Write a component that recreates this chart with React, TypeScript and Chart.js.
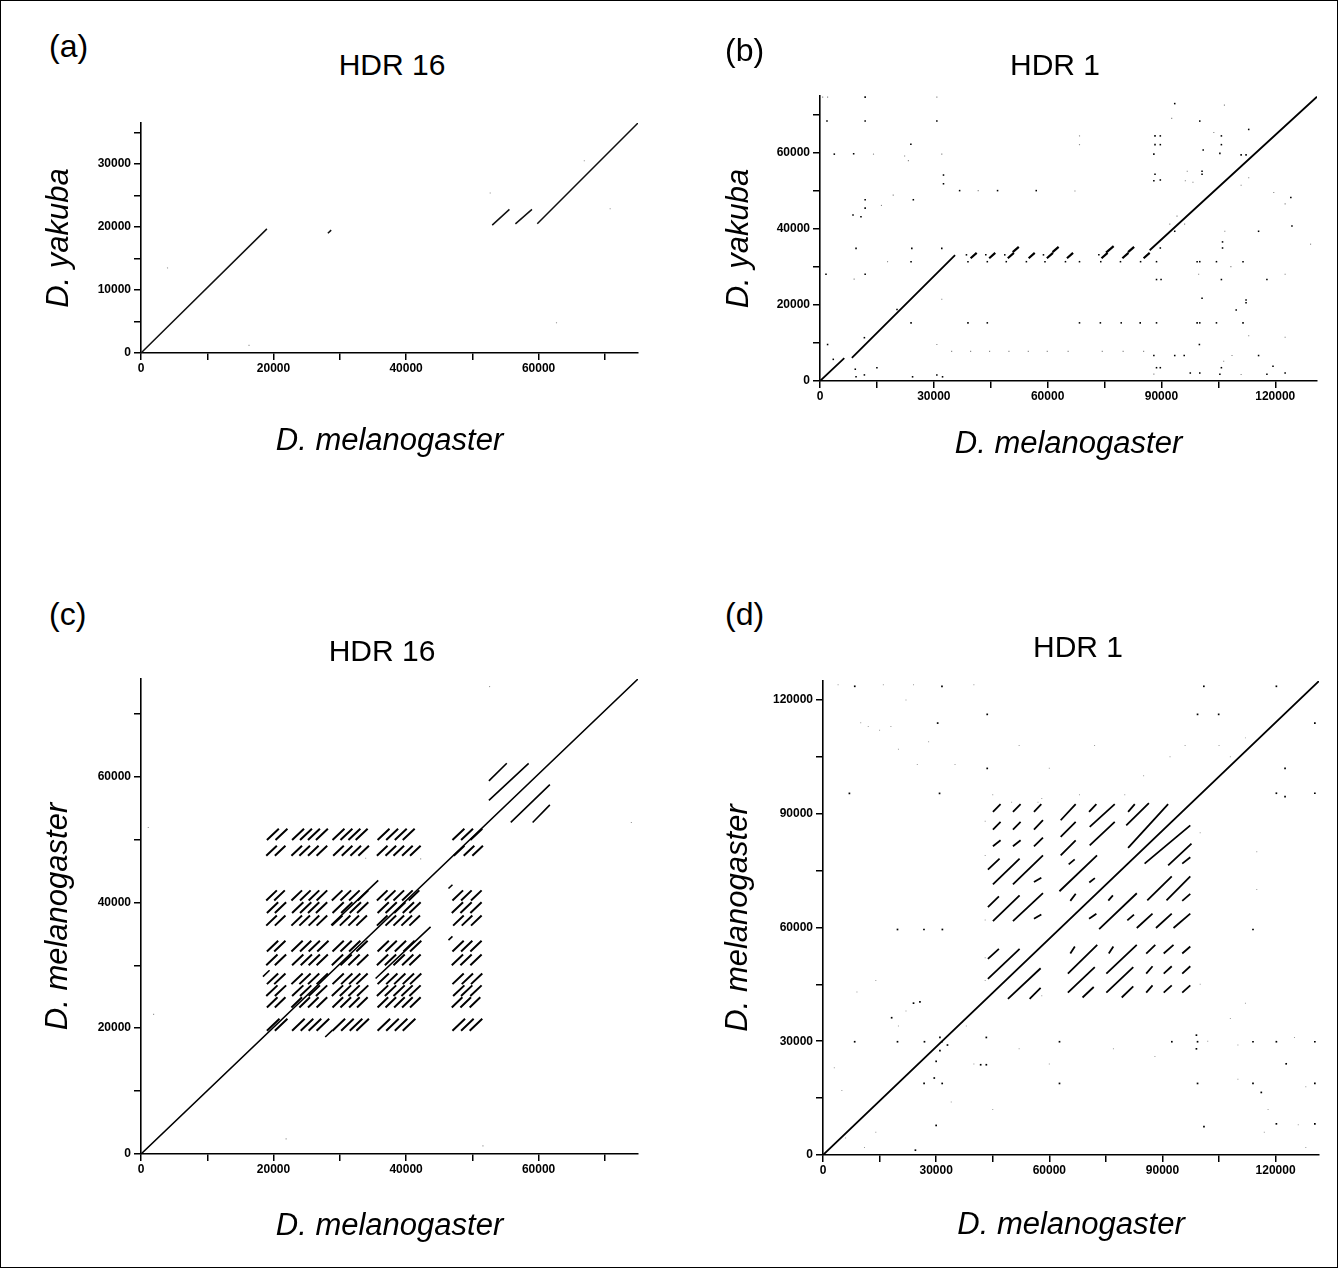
import React, { useEffect, useRef } from 'react';
import { Chart, registerables } from 'chart.js';

Chart.register(...registerables);

// ================= DATA =================
// segments: [x0, y0, x1, y1]; dots: [x, y]; dash rows: [y0, length, ...x starts]

// ---- Panel (a): HDR 16, D. melanogaster vs D. yakuba ----
const A_X_MAX = 75000;
const A_Y_MAX = 36500;
const A_X_TICKS = [0, 10000, 20000, 30000, 40000, 50000, 60000, 70000];
const A_X_LABELS = [0, 20000, 40000, 60000];
const A_Y_TICKS = [0, 5000, 10000, 15000, 20000, 25000, 30000, 35000];
const A_Y_LABELS = [0, 10000, 20000, 30000];
const A_SEGMENTS = [
  [0, 0, 19000, 19700],
  [28200, 19000, 28700, 19500],
  [53000, 20300, 55600, 22800],
  [56500, 20500, 59000, 22800],
  [59800, 20500, 75000, 36500],
];
const A_FAINT_DOTS = [
  [52700, 25400], [66900, 30500], [70800, 22900], [62700, 4800], [16300, 1200], [4000, 13500],
];

// ---- Panel (b): HDR 1, D. melanogaster vs D. yakuba ----
const B_X_MAX = 131000;
const B_Y_MAX = 75000;
const B_X_TICKS = [0, 15000, 30000, 45000, 60000, 75000, 90000, 105000, 120000];
const B_X_LABELS = [0, 30000, 60000, 90000, 120000];
const B_Y_TICKS = [0, 10000, 20000, 30000, 40000, 50000, 60000, 70000];
const B_Y_LABELS = [0, 20000, 40000, 60000];
const B_SEGMENTS = [
  [0, 0, 6400, 6000],
  [8400, 6100, 35600, 33100],
  [86900, 34400, 131000, 74800],
];
const B_LADDER = [
  [39700, 32300, 41300, 33700], [44600, 32300, 46200, 33700], [49500, 32300, 51100, 33700],
  [55000, 32300, 56600, 33700], [59800, 32300, 61400, 33700], [65100, 32300, 66700, 33700],
  [74200, 32300, 75800, 33700], [79700, 32300, 81300, 33700], [85300, 32300, 86900, 33700],
  [50800, 33900, 52400, 35300], [61300, 33900, 62900, 35300], [75400, 33800, 77400, 35500],
  [81200, 33900, 82800, 35300],
];
const B_DARK_DOTS = [
  [38600, 33200], [43700, 33200], [48700, 33200], [58900, 33200], [73500, 33200],
  [39000, 31400], [44100, 31400], [49100, 31400], [54400, 31400], [59300, 31400], [64700, 31400],
  [68400, 31400], [74000, 31400], [79200, 31400], [84500, 31400],
  [1840, 68400], [11900, 68400], [30800, 68400], [32550, 54200], [32550, 51900],
  [24600, 47700], [11900, 47700], [11900, 45500], [8700, 43700], [10800, 43200],
  [9500, 34900], [24200, 34900], [32100, 34900], [24000, 31400], [1580, 28100], [11900, 28100],
  [20300, 18800], [24000, 15300], [39000, 15300], [44100, 15300], [2000, 9600], [3500, 5700],
  [9300, 3100], [11700, 1600], [9500, 1100], [15000, 3500], [24400, 1100], [30800, 1600], [32300, 1100],
  [11900, 74700], [23950, 62300], [3770, 59700], [8870, 59800], [36800, 50100], [46800, 50100],
  [57000, 50100], [11700, 11400],
  [93500, 73000], [100100, 68400], [113000, 66200], [88300, 64500], [89700, 64500], [88300, 62200],
  [89700, 62200], [88000, 59700], [101000, 60800], [105800, 64500], [105800, 62200], [105400, 59900],
  [100700, 55200], [100700, 54400], [88300, 54400], [88000, 52700], [89700, 52900],
  [111000, 59500], [112300, 59500], [124100, 48300], [93500, 39400], [115600, 39400], [124400, 40800],
  [106100, 36600], [106100, 35000], [89700, 35000],
  [88700, 31400], [99400, 31400], [100100, 31400], [104500, 31400], [111500, 31400],
  [88700, 26700], [89900, 26700], [105800, 26700], [117800, 26700],
  [100700, 21800], [112300, 21300], [112300, 20600], [109700, 18700],
  [68400, 15300], [73900, 15300], [79400, 15300], [84400, 15300], [88700, 15300], [99400, 15300],
  [100100, 15300], [104500, 15300], [111500, 15300], [100000, 9600],
  [88000, 6700], [93500, 6700], [96000, 6700], [115600, 6700], [119400, 3900], [88700, 3500],
  [89700, 3500], [105800, 3500], [97600, 2100], [100100, 2100], [105400, 1800], [117800, 1800], [122600, 2100],
];
const B_FAINT_DOTS = [
  [700, 74700], [2000, 74700], [30800, 74700], [14100, 59700], [22300, 59200], [23300, 58000],
  [32100, 59700], [41700, 50100], [19300, 48900], [16200, 46200], [17800, 31400], [9000, 26800],
  [32100, 21500], [30800, 9600], [34700, 7800], [39700, 7800], [44700, 7800], [49800, 7800],
  [54900, 7800], [59900, 7800], [65400, 7800],
  [106600, 72600], [92700, 69100], [68400, 64500], [68400, 62200], [103800, 65400], [96800, 55200],
  [98300, 52300], [96300, 52700], [111000, 51500], [113000, 53500], [67200, 50000], [119600, 49600],
  [122600, 46600], [94100, 43400], [92200, 41300], [96100, 41300], [106700, 39400], [129300, 36000],
  [99800, 28100], [108300, 30100], [122600, 28100], [113000, 11900], [122600, 11500], [74400, 7800],
  [79900, 7800], [85300, 7800], [108600, 6700], [106400, 5200], [88000, 1800], [111000, 1700],
];

// ---- Panel (c): HDR 16 self comparison ----
const C_X_MAX = 75000;
const C_Y_MAX = 75500;
const C_X_TICKS = [0, 10000, 20000, 30000, 40000, 50000, 60000, 70000];
const C_X_LABELS = [0, 20000, 40000, 60000];
const C_Y_TICKS = [0, 10000, 20000, 30000, 40000, 50000, 60000, 70000];
const C_Y_LABELS = [0, 20000, 40000, 60000];
const C_SEGMENTS = [
  [0, 0, 75000, 75500],
  [28700, 36400, 35800, 43500],
  [35400, 27900, 43700, 36100],
  [52500, 59300, 55200, 62100],
  [52500, 56200, 58500, 62100],
  [55800, 52700, 61700, 58700],
  [59100, 52700, 61700, 55500],
  [18400, 28200, 19400, 29200],
  [27800, 18600, 28900, 19700],
  [46400, 42200, 47000, 42800],
  [46400, 34000, 47000, 34600],
];
const C_DASH_ROWS = [
  [49900, 1800, 19000, 20300, 22800, 24000, 25200, 26400, 28900, 30100, 31300, 32400, 35700, 37000, 38300, 39500, 47000, 48300, 49700],
  [47400, 1600, 18900, 20200, 22700, 23900, 25200, 26500, 29000, 30300, 31600, 32800, 35600, 36900, 38100, 39400, 40600, 47200, 48700, 50000],
  [40300, 1600, 18900, 20100, 22700, 24000, 25300, 26500, 28800, 30100, 31400, 32700, 35600, 36800, 38100, 39400, 40400, 47000, 48300, 49800],
  [38300, 1700, 19000, 20200, 22800, 24000, 25200, 26400, 28900, 30200, 31500, 32600, 35700, 36900, 38200, 39500, 40500, 46900, 48200, 49700],
  [36300, 1600, 18900, 20200, 22700, 23900, 25300, 26500, 28800, 30000, 31300, 32500, 35600, 36900, 38100, 39300, 40500, 47100, 48400, 49800],
  [32200, 1700, 19000, 20100, 22700, 24000, 25300, 26600, 28900, 30100, 31400, 32500, 35700, 36900, 38300, 39600, 40600, 47000, 48300, 49700],
  [30000, 1700, 18900, 20200, 22800, 24100, 25300, 26500, 28800, 30100, 31300, 32600, 35600, 36800, 38100, 39400, 40500, 46900, 48200, 49700],
  [27000, 1700, 19000, 20100, 22700, 23900, 25200, 26500, 28900, 30200, 31400, 32500, 35700, 37000, 38200, 39500, 40600, 47000, 48400, 49800],
  [25100, 1700, 18900, 20200, 22800, 24000, 25300, 26400, 28800, 30000, 31300, 32600, 35600, 36800, 38100, 39300, 40500, 47100, 48300, 49700],
  [23300, 1600, 19000, 20200, 22700, 23900, 25200, 26500, 28900, 30100, 31400, 32600, 35700, 36900, 38200, 39400, 40600, 46900, 48200, 49600],
  [19600, 1900, 19000, 20200, 22800, 24100, 25300, 26500, 28900, 30200, 31500, 32500, 35700, 37000, 38300, 39500, 47000, 48300, 49600],
];
const C_FAINT_DOTS = [
  [1100, 51900], [1900, 22200], [21900, 2400], [51600, 1300], [74000, 52700], [52600, 74300],
  [33900, 47000], [42200, 46900],
];

// ---- Panel (d): HDR 1 self comparison ----
const D_X_MAX = 131500;
const D_Y_MAX = 125000;
const D_X_TICKS = [0, 15000, 30000, 45000, 60000, 75000, 90000, 105000, 120000];
const D_X_LABELS = [0, 30000, 60000, 90000, 120000];
const D_Y_TICKS = [0, 15000, 30000, 45000, 60000, 75000, 90000, 105000, 120000];
const D_Y_LABELS = [0, 30000, 60000, 90000, 120000];
const D_SEGMENTS = [
  [0, 0, 131500, 125000],
  // upper-left group
  [45050, 90480, 47080, 92510], [50360, 90480, 52390, 92510], [55930, 90480, 57880, 92510],
  [45050, 85810, 47080, 87840], [50360, 85810, 52390, 87840], [55930, 85810, 58320, 88280],
  [45050, 81410, 47080, 83000], [50360, 81410, 52390, 83000], [55930, 81410, 58320, 83700],
  [43720, 75240, 46820, 78150], [45050, 71360, 52130, 78150], [50360, 71360, 58320, 79030], [55930, 71980, 57880, 73130],
  [43720, 65370, 46640, 68190], [45050, 61670, 52130, 68460], [50360, 61670, 58320, 69070], [55930, 62290, 57880, 63430],
  [43720, 51720, 46640, 54360], [43720, 46430, 52130, 54360], [49030, 41150, 57700, 49250], [54780, 41150, 57700, 44050],
  // middle group
  [63010, 88280, 66990, 92510], [63010, 83870, 66990, 87840], [63010, 79030, 66990, 82990],
  [70540, 90480, 72480, 92510], [70710, 86520, 77350, 92510], [70710, 81670, 77350, 87840],
  [65140, 76650, 66730, 77970], [62680, 69550, 72650, 79040], [70600, 71860, 72080, 73020], [65570, 67010, 67000, 68900],
  [80680, 61880, 82450, 63400], [73210, 59550, 83200, 69020], [75640, 67070, 76860, 68480], [70540, 62290, 72480, 63600],
  [79200, 41530, 82260, 44480], [75120, 42800, 82260, 49520], [75120, 47840, 83190, 55400], [75770, 53130, 76980, 54990],
  [68810, 41530, 71780, 44310], [64920, 42800, 72060, 49520], [64920, 47840, 72710, 55400], [65570, 53130, 66770, 54990],
  // right group
  [92930, 59860, 97380, 63640], [88280, 59860, 92460, 63640], [83190, 59860, 87360, 63640],
  [95240, 67010, 97380, 68860], [91070, 67170, 97380, 73480], [85970, 67170, 92460, 73480],
  [80890, 90480, 82660, 92510], [80400, 86930, 86400, 92800], [80890, 81000, 91500, 92510],
  [95240, 76850, 97380, 78530], [85260, 76850, 97380, 86920], [91510, 76380, 97700, 82110],
  [95240, 42800, 97380, 44730], [95240, 47840, 97380, 49770], [95240, 53130, 97380, 54990],
  [90330, 42800, 92460, 44730], [90330, 47840, 92460, 49770], [90330, 53130, 92930, 55400],
  [85690, 42800, 87370, 44730], [85690, 47840, 87370, 49770], [85690, 53130, 88100, 55400],
];
const D_DARK_DOTS = [
  [8420, 123600], [31540, 123600], [43540, 116200], [30400, 113900], [43540, 101950], [30900, 95360],
  [7000, 95360], [100970, 123600], [120200, 123600], [104900, 116200], [130400, 113900], [99300, 116200],
  [122500, 101950], [120200, 95400], [122500, 94500], [130400, 95400], [19750, 59470], [26770, 59470],
  [31650, 59470], [114000, 59470], [24000, 40040], [25700, 40400], [18200, 36200], [8400, 29870],
  [19750, 29870], [26900, 29870], [31540, 29870], [62700, 29870], [92480, 29870], [99300, 29870],
  [114000, 29870], [120200, 29870], [130400, 29870], [62700, 18870], [99300, 18870], [114000, 18870],
  [130400, 18870], [26800, 18870], [31600, 18870], [120200, 8220], [101000, 7500], [130400, 8220],
  [30000, 7800], [24500, 1270], [122800, 24050], [116200, 16500], [43300, 31000], [43300, 23800],
  [41800, 23800], [99000, 31600], [99000, 28000], [31000, 27500], [30000, 24700], [29500, 20300],
  [31000, 31000], [33000, 29000],
];
const D_FAINT_DOTS = [
  [3000, 23000], [5000, 17000], [6000, 4500], [11000, 2000], [14000, 6000], [20000, 34000], [22000, 38000],
  [34000, 14000], [37000, 35000], [38000, 34000], [40000, 24000], [45000, 95000], [50000, 93000],
  [57000, 93000], [68000, 95000], [80000, 95000], [85000, 100000], [92000, 105000], [105000, 108000],
  [108000, 105000], [112000, 110000], [115000, 80000], [115000, 70000], [112000, 40000], [108000, 36000],
  [110000, 20000], [118000, 12000], [128000, 18000], [126000, 8000], [88000, 26000], [77000, 28000],
  [60000, 24000], [52000, 28000], [45000, 12000], [15000, 112000], [18000, 113000], [20000, 107000],
  [25000, 103000], [28000, 109000], [35000, 103000], [10000, 114000], [12000, 113000], [22000, 120000],
  [4000, 124000], [16000, 124000], [24000, 124000], [40000, 124000], [52000, 108000], [72000, 108000],
  [96000, 108000], [60000, 102000], [102000, 30000], [110000, 29000], [125000, 31000], [117000, 6000],
  [128000, 2000], [9000, 43000], [14000, 46000], [43000, 46000], [43000, 52000], [43000, 62000],
  [43000, 79000], [43000, 88000], [58000, 42000], [58000, 94000], [100000, 45000], [100000, 85000],
];

// ================= HELPERS =================
const FONT = "'Liberation Sans', Arial, Helvetica, sans-serif";

function segPoints(segs: number[][]) {
  const pts: any[] = [];
  segs.forEach((s) => {
    pts.push({ x: s[0], y: s[1] });
    pts.push({ x: s[2], y: s[3] });
    pts.push({ x: s[2], y: null });
  });
  return pts;
}
function dashSegs(rows: number[][]) {
  const segs: number[][] = [];
  rows.forEach((r) => {
    const [y0, len, ...xs] = r;
    xs.forEach((x) => segs.push([x, y0, x + len, y0 + len]));
  });
  return segs;
}
function dotPoints(d: number[][]) {
  return d.map((p) => ({ x: p[0], y: p[1] }));
}
function lineDs(segs: number[][], width: number, color = '#000') {
  return {
    data: segPoints(segs), showLine: true, spanGaps: false, borderColor: color, borderWidth: width,
    pointRadius: 0, fill: false, borderCapStyle: 'butt',
  };
}
function dotDs(d: number[][], r: number, color: string) {
  return {
    data: dotPoints(d), showLine: false, pointRadius: r, pointStyle: 'rect',
    backgroundColor: color, borderColor: color, borderWidth: 0,
  };
}

interface Spec {
  left: number; top: number; width: number; height: number;
  padTop: number; padRight: number; yWidth: number; xHeight: number;
  xMax: number; yMax: number;
  xTicks: number[]; xLabels: number[]; yTicks: number[]; yLabels: number[];
  xTitle: string; yTitle: string; xTitlePad: number; yTitlePad: number;
  datasets: any[];
}

function scaleOpts(max: number, tickValues: number[], labelValues: number[], isX: boolean, spec: Spec) {
  return {
    type: 'linear',
    position: isX ? 'bottom' : 'left',
    min: 0,
    max,
    afterBuildTicks: (s: any) => {
      s.ticks = tickValues.map((v) => ({ value: v }));
    },
    afterFit: (s: any) => {
      if (isX) s.height = spec.xHeight; else s.width = spec.yWidth;
    },
    ticks: {
      display: true,
      autoSkip: false,
      maxRotation: 0,
      minRotation: 0,
      padding: isX ? 1 : 3,
      color: '#000',
      font: { family: FONT, size: 12, weight: 'bold' },
      callback: (v: any) => (labelValues.indexOf(Math.round(Number(v))) >= 0 ? String(Math.round(Number(v))) : ''),
    },
    grid: { display: true, drawOnChartArea: false, drawTicks: true, tickLength: 7, color: '#000', lineWidth: 1.5 },
    border: { display: true, color: '#000', width: 1.6 },
    title: {
      display: true,
      text: isX ? spec.xTitle : spec.yTitle,
      color: '#000',
      font: { family: FONT, size: 31, style: 'italic', lineHeight: 1.2 },
      padding: isX ? { top: 0, bottom: spec.xTitlePad } : { top: spec.yTitlePad, bottom: 0 },
    },
  };
}

function Panel({ spec }: { spec: Spec }) {
  const ref = useRef<HTMLCanvasElement>(null);
  useEffect(() => {
    const chart = new Chart(ref.current as HTMLCanvasElement, {
      type: 'scatter',
      data: { datasets: spec.datasets },
      options: {
        animation: false,
        responsive: false,
        events: [],
        layout: { padding: { left: 0, top: spec.padTop, right: spec.padRight, bottom: 0 } },
        plugins: { legend: { display: false }, tooltip: { enabled: false }, title: { display: false } },
        scales: {
          x: scaleOpts(spec.xMax, spec.xTicks, spec.xLabels, true, spec),
          y: scaleOpts(spec.yMax, spec.yTicks, spec.yLabels, false, spec),
        },
      } as any,
    });
    return () => chart.destroy();
  }, []);
  return (
    <canvas
      ref={ref}
      width={spec.width}
      height={spec.height}
      style={{ position: 'absolute', left: spec.left, top: spec.top, width: spec.width, height: spec.height }}
    />
  );
}

const SPECS: Spec[] = [
  {
    left: 0, top: 100, width: 669, height: 380, padTop: 22, padRight: 32, yWidth: 140, xHeight: 128,
    xMax: A_X_MAX, yMax: A_Y_MAX, xTicks: A_X_TICKS, xLabels: A_X_LABELS, yTicks: A_Y_TICKS, yLabels: A_Y_LABELS,
    xTitle: 'D. melanogaster', yTitle: 'D. yakuba', xTitlePad: 21, yTitlePad: 40,
    datasets: [lineDs(A_SEGMENTS, 1.5, '#111'), dotDs(A_FAINT_DOTS, 0.8, '#999')],
  },
  {
    left: 669, top: 60, width: 669, height: 440, padTop: 35, padRight: 22, yWidth: 150, xHeight: 120,
    xMax: B_X_MAX, yMax: B_Y_MAX, xTicks: B_X_TICKS, xLabels: B_X_LABELS, yTicks: B_Y_TICKS, yLabels: B_Y_LABELS,
    xTitle: 'D. melanogaster', yTitle: 'D. yakuba', xTitlePad: 38, yTitlePad: 51,
    datasets: [
      lineDs(B_SEGMENTS, 1.8), lineDs(B_LADDER, 2.2),
      dotDs(B_DARK_DOTS, 1.1, '#000'), dotDs(B_FAINT_DOTS, 0.8, '#888'),
    ],
  },
  {
    left: 0, top: 640, width: 669, height: 620, padTop: 38, padRight: 32, yWidth: 140, xHeight: 107,
    xMax: C_X_MAX, yMax: C_Y_MAX, xTicks: C_X_TICKS, xLabels: C_X_LABELS, yTicks: C_Y_TICKS, yLabels: C_Y_LABELS,
    xTitle: 'D. melanogaster', yTitle: 'D. melanogaster', xTitlePad: 16, yTitlePad: 39,
    datasets: [
      lineDs(C_SEGMENTS, 1.6), lineDs(dashSegs(C_DASH_ROWS), 2),
      dotDs(C_FAINT_DOTS, 0.8, '#999'),
    ],
  },
  {
    left: 669, top: 640, width: 669, height: 620, padTop: 40, padRight: 20, yWidth: 153, xHeight: 106,
    xMax: D_X_MAX, yMax: D_Y_MAX, xTicks: D_X_TICKS, xLabels: D_X_LABELS, yTicks: D_Y_TICKS, yLabels: D_Y_LABELS,
    xTitle: 'D. melanogaster', yTitle: 'D. melanogaster', xTitlePad: 17, yTitlePad: 50,
    datasets: [
      lineDs(D_SEGMENTS, 1.8), dotDs(D_DARK_DOTS, 1.2, '#000'), dotDs(D_FAINT_DOTS, 0.7, '#999'),
    ],
  },
];

const LABELS = [
  { text: '(a)', x: 48, y: 29, size: 32, center: false },
  { text: '(b)', x: 724, y: 33, size: 32, center: false },
  { text: '(c)', x: 48, y: 597, size: 32, center: false },
  { text: '(d)', x: 724, y: 597, size: 32, center: false },
  { text: 'HDR 16', x: 391, y: 49, size: 30, center: true },
  { text: 'HDR 1', x: 1054, y: 49, size: 30, center: true },
  { text: 'HDR 16', x: 381, y: 635, size: 30, center: true },
  { text: 'HDR 1', x: 1077, y: 631, size: 30, center: true },
];

export default function App() {
  return (
    <div
      style={{
        position: 'absolute', left: 0, top: 0, width: 1338, height: 1268, background: '#fff',
        boxSizing: 'border-box', border: '1px solid #000', overflow: 'hidden',
      }}
    >
      {SPECS.map((s, i) => (
        <Panel key={i} spec={s} />
      ))}
      {LABELS.map((l, i) => (
        <div
          key={'l' + i}
          style={{
            position: 'absolute', top: l.y, left: l.center ? l.x - 150 : l.x, width: l.center ? 300 : 'auto',
            textAlign: l.center ? 'center' : 'left', fontFamily: FONT, fontSize: l.size,
            lineHeight: l.size + 'px', color: '#000', whiteSpace: 'nowrap',
          }}
        >
          {l.text}
        </div>
      ))}
    </div>
  );
}
